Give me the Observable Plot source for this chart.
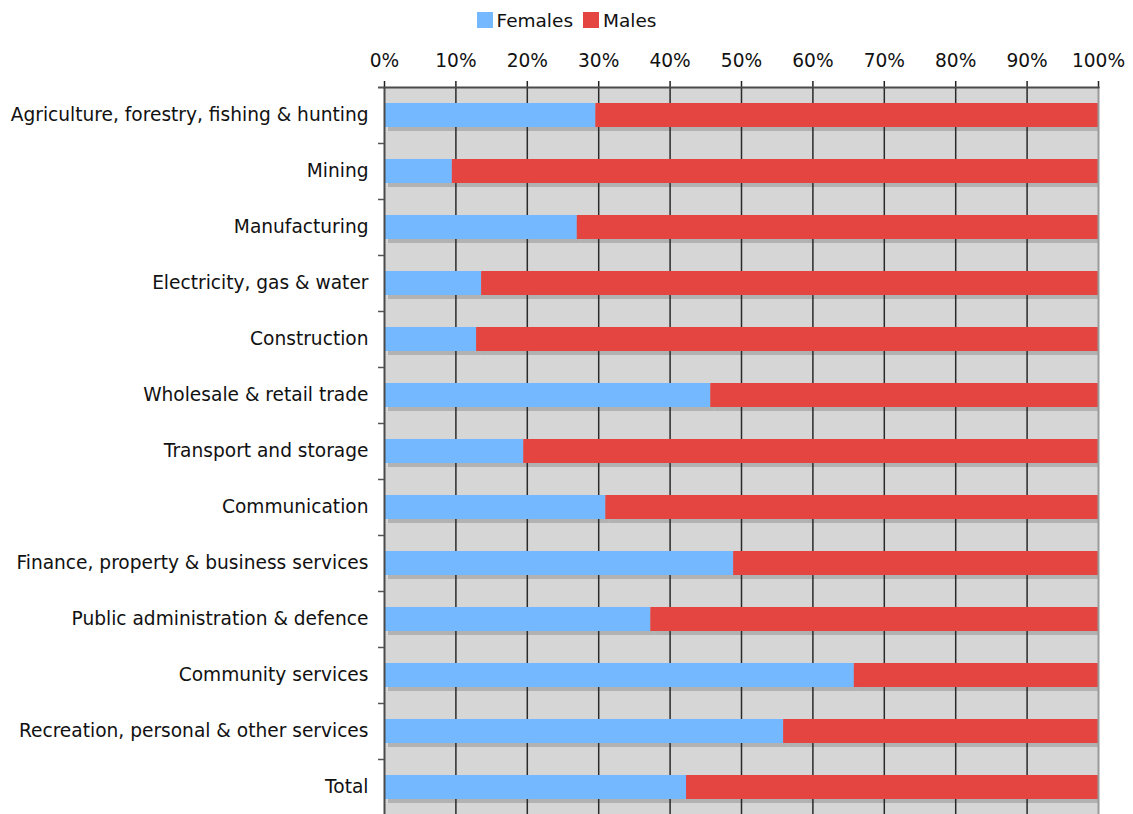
<!DOCTYPE html>
<html>
<head>
<meta charset="utf-8">
<script src="https://cdn.jsdelivr.net/npm/d3@7"></script>
<script src="https://cdn.jsdelivr.net/npm/@observablehq/plot@0.6"></script>
<style>
  body { margin: 0; background: #fff; font-family: "DejaVu Sans", Verdana, sans-serif; }
  #legend { height: 40px; display: flex; justify-content: center; align-items: center; gap: 10px; font-size: 18.5px; color: #111; box-sizing: border-box; padding-left: 0px; }
  #legend .item { display: flex; align-items: center; gap: 4px; }
  #legend .sw { width: 16px; height: 16px; display: inline-block; }
  #chart svg { display: block; }
</style>
</head>
<body>
<div id="legend"></div>
<div id="chart"></div>
<script>
const sectors = [
  "Agriculture, forestry, fishing & hunting",
  "Mining",
  "Manufacturing",
  "Electricity, gas & water",
  "Construction",
  "Wholesale & retail trade",
  "Transport and storage",
  "Communication",
  "Finance, property & business services",
  "Public administration & defence",
  "Community services",
  "Recreation, personal & other services",
  "Total"
];
const females = [29.6, 9.5, 27.0, 13.6, 12.9, 45.7, 19.5, 31.0, 48.9, 37.3, 65.8, 55.9, 42.3];
const males   = [70.4, 90.5, 73.0, 86.4, 87.1, 54.3, 80.5, 69.0, 51.1, 62.7, 34.2, 44.1, 57.7];
const seriesNames = ["Females", "Males"];
const seriesColors = ["#74b9ff", "#e54540"];
const xTicks = [0, 10, 20, 30, 40, 50, 60, 70, 80, 90, 100];

const data = [];
sectors.forEach((s, i) => {
  data.push({sector: s, sex: "Females", value: females[i]});
  data.push({sector: s, sex: "Males", value: males[i]});
});

// legend
const legend = document.getElementById("legend");
seriesNames.forEach((n, i) => {
  const it = document.createElement("span");
  it.className = "item";
  it.innerHTML = `<span class="sw" style="background:${seriesColors[i]}"></span><span>${n}</span>`;
  legend.appendChild(it);
});

const chart = Plot.plot({
  width: 1133,
  height: 774,
  marginTop: 47,
  marginBottom: -1,
  marginLeft: 384,
  marginRight: 35,
  style: {fontFamily: "DejaVu Sans, Verdana, sans-serif", fontSize: "18.6px", color: "#111", background: "#fff"},
  x: {domain: [0, 100]},
  y: {domain: sectors, paddingInner: 0.5714, paddingOuter: 0.2857},
  color: {domain: seriesNames, range: seriesColors},
  marks: [
    Plot.frame({fill: "#d6d6d6", stroke: null}),
    // bar shadows
    Plot.barX(data, {y: "sector", x: "value", z: "sex", order: seriesNames, fill: "#b2b2b2", dx: 4, dy: 4, clip: "frame"}),
    // grid lines
    Plot.ruleX(xTicks.slice(1, -1), {stroke: "#2a2a2a", strokeWidth: 1.5}),
    // bars
    Plot.barX(data, {y: "sector", x: "value", z: "sex", fill: "sex", order: seriesNames}),
    // right edge and left axis line
    Plot.ruleX([100], {stroke: "#9a9a9a", strokeWidth: 2}),
    Plot.ruleX([0], {stroke: "#4a4a4a", strokeWidth: 2}),
    // top axis
    Plot.axisX({anchor: "top", ticks: xTicks, tickSize: 7, tickPadding: 14, tickFormat: d => d + "%", fontSize: 18.6, stroke: "#222", strokeWidth: 1.5, label: null}),
    Plot.frame({anchor: "top", stroke: "#4a4a4a", strokeWidth: 2}),
    // y labels
    Plot.axisY({tickSize: 0, tickPadding: 16, fontSize: 18.6, label: null}),
    // y separator ticks
    Plot.axisY(sectors, {tickSize: 6, dy: 28, text: null, stroke: "#555", strokeWidth: 1.5, label: null}),
    Plot.axisY([sectors[0]], {tickSize: 6, dy: -28, text: null, stroke: "#555", strokeWidth: 2, label: null})
  ]
});
document.getElementById("chart").appendChild(chart);
</script>
</body>
</html>
